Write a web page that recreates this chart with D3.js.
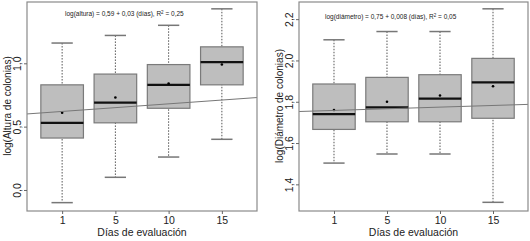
<!DOCTYPE html>
<html>
<head>
<meta charset="utf-8">
<script src="https://d3js.org/d3.v7.min.js"></script>
<style>
  body { margin: 0; background: #fff; }
  svg text { font-family: "Liberation Sans", Arial, sans-serif; fill: #222; }
</style>
</head>
<body>
<div id="chart"></div>
<script>
// categories (x axis)
var days = ["1", "5", "10", "15"];

// left panel: log(altura)
var alturaLow = [-0.10, 0.10, 0.26, 0.40];
var alturaQ1 = [0.41, 0.53, 0.645, 0.83];
var alturaMed = [0.53, 0.69, 0.83, 1.01];
var alturaQ3 = [0.83, 0.915, 0.99, 1.13];
var alturaHigh = [1.16, 1.22, 1.30, 1.43];
var alturaMean = [0.61, 0.73, 0.84, 0.99];
var alturaTicks = [0, 0.5, 1.0];
var alturaFit = [0.59, 0.03]; // intercept, slope

// right panel: log(diametro)
var diamLow = [1.503, 1.547, 1.547, 1.313];
var diamQ1 = [1.666, 1.703, 1.703, 1.72];
var diamMed = [1.74, 1.773, 1.815, 1.894];
var diamQ3 = [1.886, 1.918, 1.931, 2.01];
var diamHigh = [2.10, 2.14, 2.14, 2.25];
var diamMean = [1.76, 1.80, 1.83, 1.875];
var diamTicks = [1.4, 1.6, 1.8, 2.0, 2.2];
var diamFit = [1.75, 0.008];

var width = 530, height = 241;

var svg = d3.select("#chart").append("svg")
    .attr("width", width)
    .attr("height", height);

function drawPanel(opt) {
    var g = svg.append("g");
    var x = d3.scaleLinear().domain([0.34, 4.66]).range([opt.left, opt.right]);
    var y = d3.scaleLinear().domain(opt.domain).range([211, 2]);
    var boxW = x(1.4) - x(1);
    var capW = x(1.2) - x(1);

    var rows = days.map(function(d, i) {
        return { pos: i + 1, low: opt.low[i], q1: opt.q1[i], med: opt.med[i],
                 q3: opt.q3[i], high: opt.high[i], mean: opt.mean[i] };
    });

    var b = g.selectAll(".box").data(rows).enter().append("g").attr("class", "box");

    // whiskers (dotted)
    b.append("line")
        .attr("x1", function(d) { return x(d.pos); })
        .attr("x2", function(d) { return x(d.pos); })
        .attr("y1", function(d) { return y(d.high); })
        .attr("y2", function(d) { return y(d.low); })
        .attr("stroke", "#555")
        .attr("stroke-dasharray", "1.5,1.5");
    // caps
    b.selectAll(".cap").data(function(d) { return [d.low, d.high].map(function(v) { return { pos: d.pos, v: v }; }); })
        .enter().append("line")
        .attr("x1", function(d) { return x(d.pos) - capW; })
        .attr("x2", function(d) { return x(d.pos) + capW; })
        .attr("y1", function(d) { return y(d.v); })
        .attr("y2", function(d) { return y(d.v); })
        .attr("stroke", "#777")
        .attr("stroke-width", 1.5);
    // box
    b.append("rect")
        .attr("x", function(d) { return x(d.pos) - boxW; })
        .attr("width", 2 * boxW)
        .attr("y", function(d) { return y(d.q3); })
        .attr("height", function(d) { return y(d.q1) - y(d.q3); })
        .attr("fill", "#bebebe")
        .attr("stroke", "#7a7a7a")
        .attr("stroke-width", 1.2);
    // median
    b.append("line")
        .attr("x1", function(d) { return x(d.pos) - boxW; })
        .attr("x2", function(d) { return x(d.pos) + boxW; })
        .attr("y1", function(d) { return y(d.med); })
        .attr("y2", function(d) { return y(d.med); })
        .attr("stroke", "#111")
        .attr("stroke-width", 2.2);
    // mean
    b.append("circle")
        .attr("cx", function(d) { return x(d.pos); })
        .attr("cy", function(d) { return y(d.mean); })
        .attr("r", 1.3)
        .attr("fill", "#000");

    // regression line
    g.append("line")
        .attr("x1", x(0.34)).attr("x2", x(4.66))
        .attr("y1", y(opt.fit[0] + opt.fit[1] * 0.34))
        .attr("y2", y(opt.fit[0] + opt.fit[1] * 4.66))
        .attr("stroke", "#777")
        .attr("stroke-width", 1);

    // frame
    g.append("rect")
        .attr("x", opt.left).attr("y", 2)
        .attr("width", opt.right - opt.left).attr("height", 209)
        .attr("fill", "none")
        .attr("stroke", "#8a8a8a")
        .attr("stroke-width", 1.2);

    // x axis
    var xa = g.append("g").attr("transform", "translate(0,211)")
        .call(d3.axisBottom(x).tickValues([1, 2, 3, 4]).tickSize(3).tickPadding(3)
            .tickFormat(function(d) { return days[d - 1]; }));
    xa.select(".domain").remove();
    xa.selectAll("line").attr("stroke", "#666");
    xa.selectAll("text").style("font-size", "10.5px").attr("fill", "#222");

    // y axis
    var ya = g.append("g").attr("transform", "translate(" + opt.left + ",0)")
        .call(d3.axisLeft(y).tickValues(opt.ticks).tickSize(3)
            .tickFormat(function(d) { return d3.format(".1f")(d).replace(".", ","); }));
    ya.select(".domain").remove();
    ya.selectAll("line").attr("stroke", "#666");
    ya.selectAll("text")
        .style("font-size", "10.5px")
        .attr("fill", "#222")
        .attr("x", null).attr("dy", null)
        .attr("text-anchor", "middle")
        .attr("transform", "translate(-6,0) rotate(-90)");

    // axis titles
    g.append("text")
        .attr("x", (opt.left + opt.right) / 2)
        .attr("y", 236)
        .attr("text-anchor", "middle")
        .style("font-size", "10.5px")
        .text("Días de evaluación");
    g.append("text")
        .attr("transform", "translate(" + (opt.left - 16) + ",106) rotate(-90)")
        .attr("text-anchor", "middle")
        .style("font-size", "10px")
        .text(opt.ylabel);

    // equation
    var eq = g.append("text")
        .attr("x", opt.eqX)
        .attr("y", opt.eqY)
        .style("font-size", "6.5px")
        .attr("fill", "#333");
    eq.append("tspan").text(opt.eq + ", R");
    eq.append("tspan").attr("dy", -2.5).style("font-size", "4.5px").text("2");
    eq.append("tspan").attr("dy", 2.5).text(" = " + opt.r2);
}

drawPanel({
    left: 27, right: 257, domain: [-0.166, 1.484],
    low: alturaLow, q1: alturaQ1, med: alturaMed, q3: alturaQ3, high: alturaHigh, mean: alturaMean,
    ticks: alturaTicks, fit: alturaFit,
    ylabel: "log(Altura de colonias)",
    eq: "log(altura) = 0,59 + 0,03 (días)", r2: "0,25", eqX: 65, eqY: 16
});

drawPanel({
    left: 299, right: 528, domain: [1.271, 2.283],
    low: diamLow, q1: diamQ1, med: diamMed, q3: diamQ3, high: diamHigh, mean: diamMean,
    ticks: diamTicks, fit: diamFit,
    ylabel: "log(Diámetro de colonias)",
    eq: "log(diámetro) = 0,75 + 0,008 (días)", r2: "0,05", eqX: 325, eqY: 19
});
</script>
</body>
</html>
